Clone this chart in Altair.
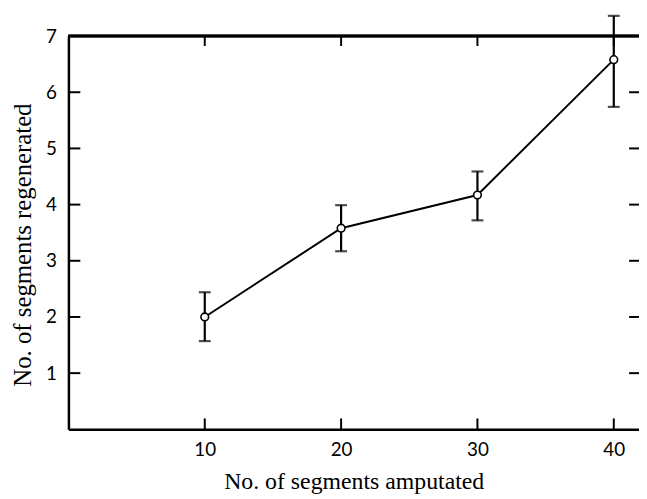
import altair as alt
import pandas as pd

amputated = [10, 20, 30, 40]
regenerated = [2.0, 3.58, 4.17, 6.58]
err_low = [1.57, 3.17, 3.72, 5.74]
err_high = [2.44, 3.99, 4.59, 7.36]
x_ticks = [10, 20, 30, 40]
y_labels = [1, 2, 3, 4, 5, 6, 7]
y_inner_ticks = [1, 2, 3, 4, 5, 6]

W, H = 576, 397

XT = "No. of segments amputated"
YT = "No. of segments regenerated"

df = pd.DataFrame({"amputated": amputated, "regenerated": regenerated,
                   "lo": err_low, "hi": err_high})
xt = pd.DataFrame({"v": x_ticks})
yt = pd.DataFrame({"v": y_inner_ticks})

xscale = alt.Scale(domain=[0, 41.85], nice=False, zero=False)
yscale = alt.Scale(domain=[0, 7], nice=False, zero=False)

x_axis = alt.Axis(values=x_ticks, title=XT, ticks=False,
                  grid=False, labelPadding=11, titlePadding=11, format="d",
                  labelFont="Lato", labelFontSize=19, titleFontSize=24)
y_axis = alt.Axis(values=y_labels, title=YT, ticks=False,
                  grid=False, labelPadding=12, titlePadding=10, format="d",
                  labelFont="Lato", labelFontSize=19, titleFontSize=25,
                  titleY=H / 2 + 12)

base = alt.Chart(df)

line = base.mark_line(color="black", strokeWidth=2).encode(
    x=alt.X("amputated:Q", scale=xscale, axis=x_axis, title=XT),
    y=alt.Y("regenerated:Q", scale=yscale, axis=y_axis, title=YT),
)
bars = base.mark_rule(color="black", strokeWidth=2.2).encode(
    x=alt.X("amputated:Q", scale=xscale, title=XT),
    y=alt.Y("lo:Q", scale=yscale, title=YT),
    y2="hi:Q",
)
cap_lo = base.mark_tick(color="black", orient="horizontal", size=12, thickness=2.2).encode(
    x=alt.X("amputated:Q", scale=xscale, title=XT),
    y=alt.Y("lo:Q", scale=yscale, title=YT),
)
cap_hi = base.mark_tick(color="black", orient="horizontal", size=12, thickness=2.2).encode(
    x=alt.X("amputated:Q", scale=xscale, title=XT),
    y=alt.Y("hi:Q", scale=yscale, title=YT),
)
points = base.mark_point(shape="circle", size=60, filled=True, fill="white",
                         stroke="black", strokeWidth=1.6, opacity=1).encode(
    x=alt.X("amputated:Q", scale=xscale, title=XT),
    y=alt.Y("regenerated:Q", scale=yscale, title=YT),
)

left_ticks = alt.Chart(yt).mark_rule(color="black", strokeWidth=2).encode(
    y=alt.Y("v:Q", scale=yscale, title=YT), x=alt.value(0), x2=alt.value(12))
right_ticks = alt.Chart(yt).mark_rule(color="black", strokeWidth=2).encode(
    y=alt.Y("v:Q", scale=yscale, title=YT), x=alt.value(W - 10), x2=alt.value(W))
bottom_ticks = alt.Chart(xt).mark_rule(color="black", strokeWidth=2).encode(
    x=alt.X("v:Q", scale=xscale, title=XT), y=alt.value(H), y2=alt.value(H - 11))
top_ticks = alt.Chart(xt).mark_rule(color="black", strokeWidth=2).encode(
    x=alt.X("v:Q", scale=xscale, title=XT), y=alt.value(0), y2=alt.value(10))
top_line = alt.Chart(xt).mark_rule(color="black", strokeWidth=2.5).encode(
    x=alt.value(0), x2=alt.value(W), y=alt.value(0))

chart = alt.layer(
    line, top_line, left_ticks, right_ticks, bottom_ticks, top_ticks,
    bars, cap_lo, cap_hi, points
).properties(
    width=W, height=H,
    autosize=alt.AutoSizeParams(type="none"),
    padding={"left": 61, "top": 26, "right": 0, "bottom": 68},
).configure_view(stroke=None).configure_axis(
    domainColor="black", domainWidth=2.5, labelColor="black",
    titleFont="Liberation Serif", titleFontWeight="normal",
    titleColor="black",
)

chart.save("out.html", embed_options={"renderer": "svg", "actions": False})
